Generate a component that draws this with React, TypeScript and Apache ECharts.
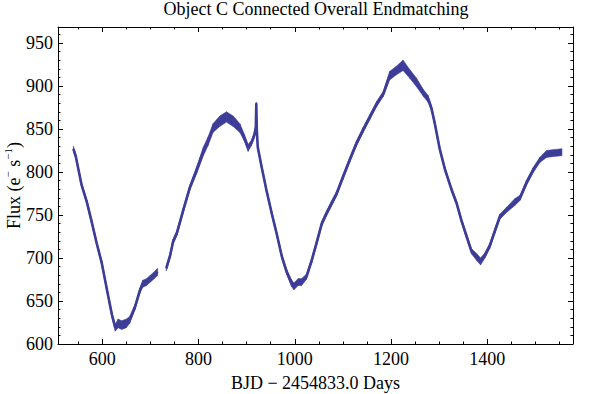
import React, { useEffect, useRef } from 'react';
import * as echarts from 'echarts';

// Light curve (BJD - 2454833.0 days, flux e-/s, half-width of the noise band)
const days = [540, 545, 557, 568, 578, 588, 599, 609, 620, 627, 633, 640, 650, 657, 668, 678, 684, 692, 700, 708, 715,
  724,
  733, 741, 747, 755, 768, 782, 796, 810, 820, 830, 844, 858, 872, 886, 895, 903, 910, 916, 919, 920, 921, 923, 931, 941,
  952, 962, 973, 983, 993, 998, 1007, 1014, 1024, 1035, 1045, 1056, 1066, 1076, 1087, 1100, 1114, 1128, 1142, 1156,
  1170, 1184, 1197, 1211, 1225, 1239, 1253, 1267, 1277, 1284, 1291, 1301, 1312, 1326, 1336, 1346, 1357, 1367, 1378,
  1386, 1395, 1405, 1416, 1426, 1440, 1457, 1468, 1481, 1495, 1509, 1523, 1537, 1555];
const flux: (number | null)[] = [827, 818, 785, 765, 742, 718, 694, 665, 634, 619, 624, 622, 624, 628, 643, 662, 670, 672, 676, 680, 684,
  null,
  688, 703, 719, 729, 755, 782, 802, 824, 836, 851, 859, 864, 859, 851, 840, 828, 834, 843, 852, 880, 850, 829, 806, 779,
  752, 729, 702, 684, 671, 667, 672, 672, 678, 697, 717, 740, 752, 763, 775, 794, 814, 833, 849, 864,
  879, 891, 912, 918, 924, 914, 904, 892, 885, 874, 856, 827, 803, 779, 764, 744, 725, 708, 701,
  696, 703, 714, 732, 748, 756, 765, 770, 787, 802, 814, 821, 822, 823];
const spread = [3, 2.5, 2.5, 2.5, 2.5, 2.5, 2.5, 2.5, 3, 4, 5, 5, 5, 4, 3, 3, 4, 4, 4, 4, 4,
  0,
  3, 3, 3, 3, 3, 3, 4, 5, 5, 5, 6, 6, 6, 5, 4, 4, 3, 3, 2, 1, 1, 2, 2.5, 2.5,
  2.5, 2.5, 2.5, 3, 4, 4, 4, 4, 3, 3, 3, 3, 3, 3, 3, 3, 3, 3, 3, 3,
  3, 3, 5, 5, 6, 5, 5, 4, 4, 3, 2.5, 2.5, 2.5, 2.5, 2.5, 2.5, 2.5, 3, 4,
  4, 3, 3, 3, 3, 3, 4, 3, 3, 3, 3, 4, 4, 4];

const xMajorTicks = [600, 800, 1000, 1200, 1400];
const xMinorTicks = [550, 650, 700, 750, 850, 900, 950, 1050, 1100, 1150, 1250, 1300, 1350, 1450, 1500, 1550];
const yMajorTicks = [600, 650, 700, 750, 800, 850, 900, 950];
const yMinorTicks = [610, 620, 630, 640, 660, 670, 680, 690, 710, 720, 730, 740, 760, 770, 780, 790,
  810, 820, 830, 840, 860, 870, 880, 890, 910, 920, 930, 940, 960];

const X_MIN = 508;
const X_MAX = 1578;
const Y_MIN = 600;
const Y_MAX = 968.6;

const FONT = 'Liberation Serif';
const COLOR = '#3d3d99';

export default function App() {
  const ref = useRef<HTMLDivElement>(null);

  useEffect(() => {
    if (!ref.current) return;
    const chart = echarts.init(ref.current, undefined, { renderer: 'svg' });

    const center = days.map((d, i) => [d, flux[i]]);
    // band segments between consecutive readings: [d, lo, hi, dNext, loNext, hiNext]
    const bandRows: number[][] = [];
    for (let i = 0; i + 1 < days.length; i++) {
      const a = flux[i];
      const b = flux[i + 1];
      if (a == null || b == null) continue;
      bandRows.push([days[i], a - spread[i], a + spread[i], days[i + 1], b - spread[i + 1], b + spread[i + 1]]);
    }

    const lineStyle = { color: '#000', width: 1 };
    const labelFont = { fontFamily: FONT, fontSize: 18, color: '#000' };

    const xAxis = (pos: 'bottom' | 'top', major: boolean) => ({
      type: 'value',
      position: pos,
      min: X_MIN,
      max: X_MAX,
      splitLine: { show: false },
      axisLine: { show: major, onZero: false, lineStyle },
      axisTick: { show: true, inside: true, length: major ? 5 : 2.5, customValues: major ? xMajorTicks : xMinorTicks, lineStyle },
      axisLabel: pos === 'bottom' && major
        ? { show: true, customValues: xMajorTicks, margin: 6, formatter: (v: number) => String(v), ...labelFont }
        : { show: false },
      ...(pos === 'bottom' && major
        ? { name: 'BJD \u2212 2454833.0 Days', nameLocation: 'middle', nameGap: 30, nameMoveOverlap: false, nameTextStyle: { ...labelFont } }
        : {}),
    });

    const yAxis = (pos: 'left' | 'right', major: boolean) => ({
      type: 'value',
      position: pos,
      min: Y_MIN,
      max: Y_MAX,
      splitLine: { show: false },
      axisLine: { show: major, onZero: false, lineStyle },
      axisTick: { show: true, inside: true, length: major ? 5 : 2.5, customValues: major ? yMajorTicks : yMinorTicks, lineStyle },
      axisLabel: pos === 'left' && major
        ? { show: true, customValues: yMajorTicks, margin: 5, formatter: (v: number) => String(v), ...labelFont }
        : { show: false },
      ...(pos === 'left' && major
        ? {
            name: '{n|Flux (e}{s|\u2212}{n| s}{s|\u22121}{n|)}',
            nameLocation: 'middle',
            nameGap: 35.5,
            nameMoveOverlap: false,
            nameTextStyle: {
              ...labelFont,
              rich: {
                n: { fontFamily: FONT, fontSize: 18, color: '#000', lineHeight: 22, verticalAlign: 'bottom' },
                s: { fontFamily: FONT, fontSize: 11, color: '#000', lineHeight: 22, verticalAlign: 'top', padding: [1.5, 0, 0, 0] },
              },
            },
          }
        : {}),
    });

    chart.setOption({
      animation: false,
      backgroundColor: '#fff',
      title: {
        text: 'Object C Connected Overall Endmatching',
        left: 316,
        top: 0,
        padding: 0,
        textAlign: 'center',
        textStyle: { fontFamily: FONT, fontSize: 18, fontWeight: 'normal', color: '#000' },
      },
      grid: { left: 58, right: 27, top: 27, bottom: 50, containLabel: false, outerBoundsMode: 'none' },
      xAxis: [xAxis('bottom', true), xAxis('bottom', false), xAxis('top', true), xAxis('top', false)],
      yAxis: [yAxis('left', true), yAxis('left', false), yAxis('right', true), yAxis('right', false)],
      series: [
        {
          type: 'custom',
          data: bandRows,
          encode: { x: [0, 3], y: [1, 2, 4, 5] },
          silent: true,
          renderItem: (_params: any, api: any) => {
            const p1 = api.coord([api.value(0), api.value(1)]);
            const p2 = api.coord([api.value(3), api.value(4)]);
            const p3 = api.coord([api.value(3), api.value(5)]);
            const p4 = api.coord([api.value(0), api.value(2)]);
            return {
              type: 'polygon',
              shape: { points: [p1, p2, p3, p4] },
              style: { fill: COLOR, stroke: COLOR, lineWidth: 0.6 },
            };
          },
        },
        {
          type: 'line',
          data: center,
          symbol: 'none',
          lineStyle: { color: COLOR, width: 2.6 },
          connectNulls: false,
          silent: true,
        },
      ],
    });

    return () => chart.dispose();
  }, []);

  return <div ref={ref} style={{ position: 'absolute', left: 0, top: 0, width: 600, height: 394 }} />;
}
